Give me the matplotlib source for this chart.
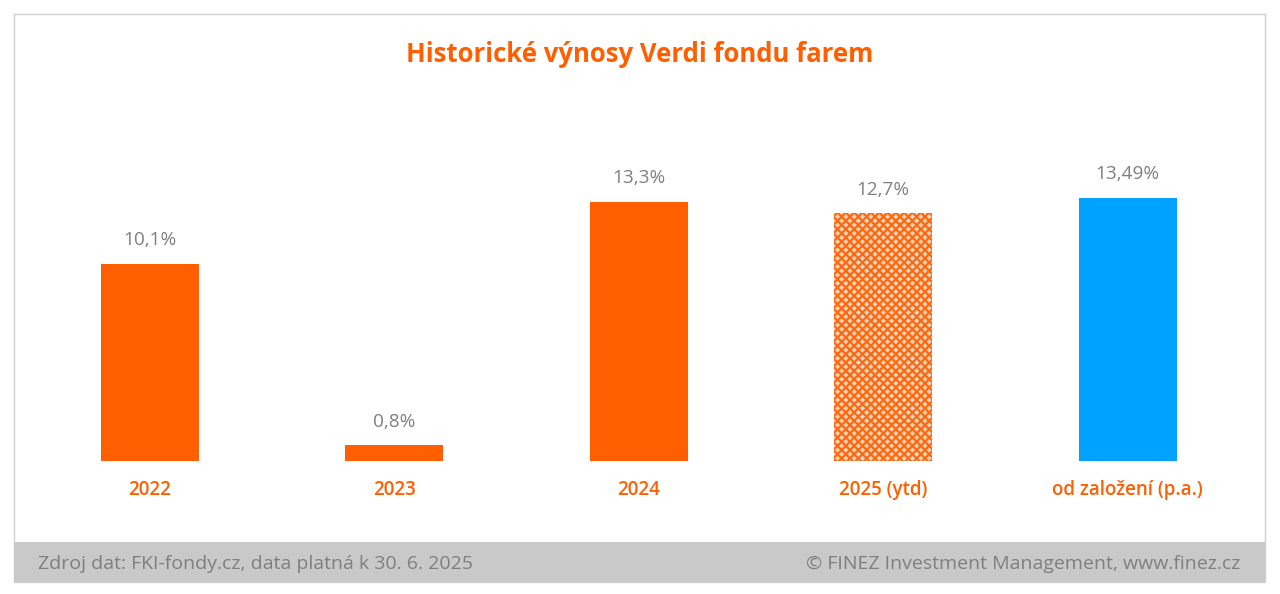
import matplotlib.pyplot as plt
from matplotlib.patches import Rectangle

categories = ["2022", "2023", "2024", "2025 (ytd)", "od založení (p.a.)"]
values = [10.1, 0.8, 13.3, 12.7, 13.49]
labels = ["10,1%", "0,8%", "13,3%", "12,7%", "13,49%"]

orange = "#FF5F00"
blue = "#00A2FF"
gray_txt = "#7f7f7f"

plt.rcParams['font.family'] = ['Open Sans', 'DejaVu Sans']
plt.rcParams['hatch.linewidth'] = 1.6

fig = plt.figure(figsize=(12.8, 5.94), dpi=100)

# frame and footer band
fig.patches.append(Rectangle((14/1280, 12/594), 1251/1280, 568/594, transform=fig.transFigure,
                             fill=False, edgecolor="#d0d0d0", linewidth=1))
fig.patches.append(Rectangle((14/1280, 12/594), 1251/1280, 40/594, transform=fig.transFigure,
                             facecolor="#c9c9c9", edgecolor="none"))

ax = fig.add_axes([27.5/1280, 133/594, 1222.5/1280, 312/594])
x = list(range(len(categories)))
bars = ax.bar(x, values, width=0.4, color=[orange, orange, orange, orange, blue])
bars[3].set_facecolor("#ffd2b3")
bars[3].set_hatch("xxxx")
bars[3].set_edgecolor("#fb6a12")
bars[3].set_linewidth(0)

for i, v in enumerate(values):
    ax.annotate(labels[i], (i, v), xytext=(0, 17), textcoords="offset points",
                ha="center", va="center", fontsize=13.7, color=gray_txt)

ax.set_xlim(-0.5, 4.5)
ax.set_ylim(0, 16)
ax.set_xticks(x)
ax.set_xticklabels(categories, color=orange, fontsize=13.5, fontweight="semibold")
ax.tick_params(axis="x", length=0, pad=14)
ax.set_yticks([])
for s in ax.spines.values():
    s.set_visible(False)

fig.text(0.5, 1 - 55/594, "Historické výnosy Verdi fondu farem", ha="center", va="center",
         fontsize=18.5, fontweight="bold", color=orange)
fig.text(38/1280, 1 - 564/594, "Zdroj dat: FKI-fondy.cz, data platná k 30. 6. 2025", ha="left",
         va="center", fontsize=14, color=gray_txt)
fig.text(1240/1280, 1 - 564/594, "© FINEZ Investment Management, www.finez.cz", ha="right",
         va="center", fontsize=14, color=gray_txt)

fig.savefig("out.png", dpi=100)
